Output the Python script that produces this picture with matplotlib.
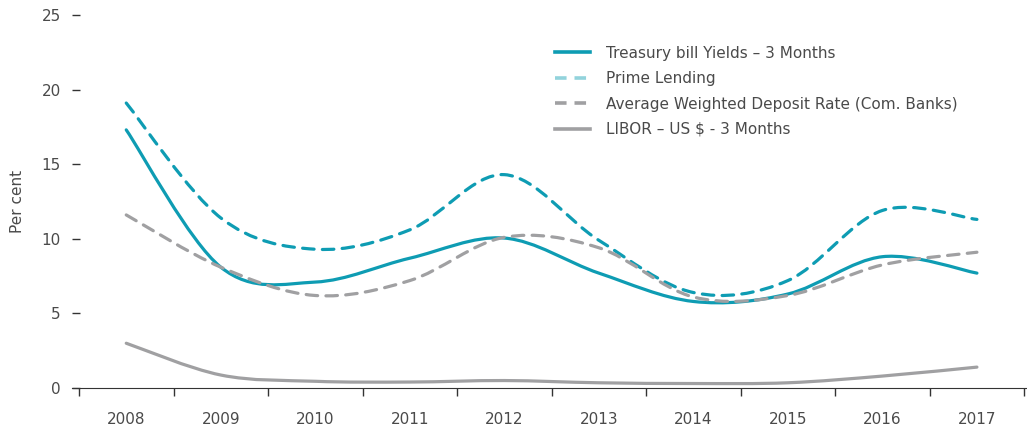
import matplotlib
matplotlib.use("Agg")
import matplotlib.pyplot as plt
import numpy as np
from matplotlib.lines import Line2D
from matplotlib.patches import PathPatch
from matplotlib.path import Path

YEARS = ["2008", "2009", "2010", "2011", "2012", "2013", "2014", "2015", "2016", "2017"]
TBILL = [17.3, 8.1, 7.1, 8.7, 10.05, 7.7, 5.8, 6.3, 8.8, 7.7]
PRIME = [19.1, 11.4, 9.3, 10.6, 14.3, 9.9, 6.4, 7.2, 11.9, 11.3]
DEPOSIT = [11.6, 8.1, 6.2, 7.2, 10.1, 9.4, 6.1, 6.2, 8.25, 9.1]
LIBOR = [3.0, 0.87, 0.45, 0.4, 0.5, 0.35, 0.3, 0.35, 0.8, 1.4]
LABELS = ["Treasury bill Yields \u2013 3 Months", "Prime Lending",
          "Average Weighted Deposit Rate (Com. Banks)", "LIBOR \u2013 US $ - 3 Months"]

TEAL = "#0e9cb3"
LIGHT_TEAL = "#92d3dc"
GREY = "#a0a0a2"
TEXT = "#4a4a4a"


def smooth_path(xs, ys):
    # catmull-rom through the yearly points, as cubic bezier segments
    pts = np.column_stack([xs, ys]).astype(float)
    verts = [tuple(pts[0])]
    codes = [Path.MOVETO]
    for i in range(len(pts) - 1):
        p0 = pts[i - 1] if i > 0 else pts[i]
        p1, p2 = pts[i], pts[i + 1]
        p3 = pts[i + 2] if i + 2 < len(pts) else pts[i + 1]
        verts += [tuple(p1 + (p2 - p0) / 6), tuple(p2 - (p3 - p1) / 6), tuple(p2)]
        codes += [Path.CURVE4] * 3
    return Path(verts, codes)


fig = plt.figure(figsize=(10.27, 4.26), dpi=100)
ax = fig.add_axes([0.0701, 0.0892, 0.929, 0.8756])
x = np.arange(len(YEARS))
dash = (0, (3.6, 2.6))
series = [(TBILL, TEAL, "-"), (PRIME, TEAL, dash), (DEPOSIT, GREY, dash), (LIBOR, GREY, "-")]
for values, color, style in series:
    patch = PathPatch(smooth_path(x, values), facecolor="none", edgecolor=color,
                      linewidth=2.3, linestyle=style, capstyle="round", joinstyle="round")
    ax.add_patch(patch)

ax.set_xlim(-0.574, 9.52)
ax.set_ylim(0, 25)
ax.set_xticks(np.arange(-0.5, 10, 1))
ax.set_xticklabels([])
ax.set_xticks(x, minor=True)
ax.set_xticklabels(YEARS, minor=True)
ax.tick_params(axis="x", which="major", direction="out", length=6, width=1, color="#333333")
ax.tick_params(axis="x", which="minor", length=0, pad=17, labelsize=11, labelcolor=TEXT)
ax.set_yticks(np.arange(0, 26, 5))
ax.tick_params(axis="y", direction="in", length=5.5, width=1, color="#333333",
               pad=8, labelsize=11, labelcolor=TEXT)
for side in ("top", "right", "left"):
    ax.spines[side].set_visible(False)
ax.spines["bottom"].set_color("#333333")
ax.set_ylabel("Per cent", fontsize=11, color=TEXT, labelpad=12)

handles = [Line2D([], [], color=TEAL, lw=2.6),
           Line2D([], [], color=LIGHT_TEAL, lw=2.6, linestyle=(0, (3.2, 2.2))),
           Line2D([], [], color=GREY, lw=2.6, linestyle=(0, (3.2, 2.2))),
           Line2D([], [], color=GREY, lw=2.6)]
leg = fig.legend(handles, LABELS, loc="upper left", bbox_to_anchor=(0.534, 0.907),
                 frameon=False, fontsize=11, handlelength=2.3, handletextpad=1.05,
                 labelspacing=0.68, borderaxespad=0)
for t in leg.get_texts():
    t.set_color(TEXT)

fig.savefig("out.png", dpi=100)
